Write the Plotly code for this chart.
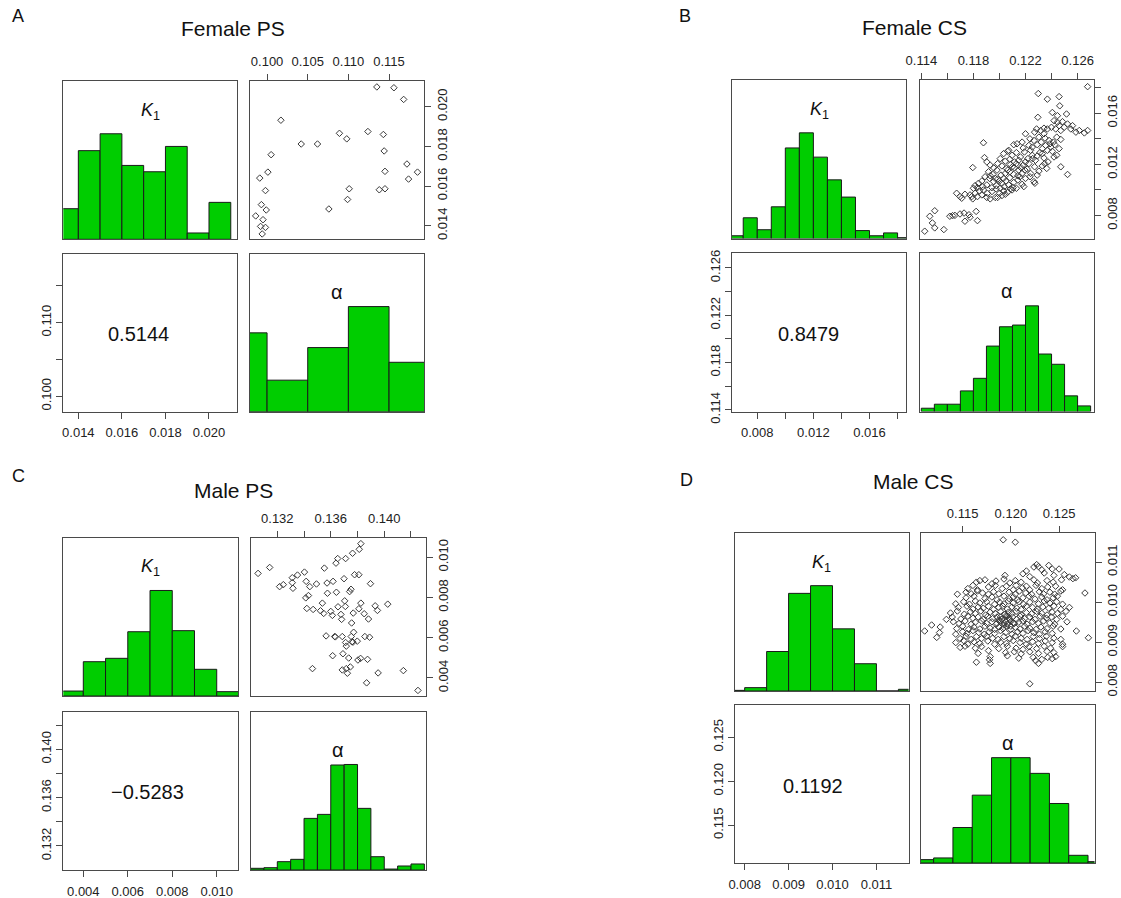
import plotly.graph_objects as go

W, H = 1121, 898
FONT = "Liberation Sans, Arial, sans-serif"

# ------------------------------------------------------------------ data
# Panel A : Female PS
A_k1_edges = [0.013, 0.014, 0.015, 0.016, 0.017, 0.018, 0.019, 0.020, 0.021]
A_k1_heights = [0.29, 0.84, 1.0, 0.70, 0.64, 0.88, 0.06, 0.35]
A_alpha_edges = [0.095, 0.100, 0.105, 0.110, 0.115, 0.120]
A_alpha_heights = [0.75, 0.30, 0.61, 1.0, 0.47]
A_sc_alpha = [0.1135, 0.1156, 0.1168, 0.1017, 0.1089, 0.1098, 0.1124, 0.1143, 0.1042, 0.1062,
              0.1144, 0.1005, 0.1172, 0.1185, 0.1145, 0.1174, 0.1001, 0.0991, 0.0998, 0.1101,
              0.1138, 0.1145, 0.1099, 0.1076, 0.0993, 0.0999, 0.0986, 0.0995, 0.0992, 0.0998, 0.0994]
A_sc_k1 = [0.02100, 0.02096, 0.02037, 0.01932, 0.01866, 0.01838, 0.01875, 0.01860, 0.01812, 0.01812,
           0.01777, 0.01758, 0.01711, 0.01670, 0.01674, 0.01635, 0.01670, 0.01640, 0.01577, 0.01586,
           0.01581, 0.01586, 0.01532, 0.01484, 0.01506, 0.01479, 0.01449, 0.01430, 0.01396, 0.01391, 0.01358]
A_corr = "0.5144"
A_k1_range = [0.01331, 0.0213]
A_alpha_range = [0.0979, 0.1193]

# Panel B : Female CS
B_k1_edges = [0.006, 0.007, 0.008, 0.009, 0.010, 0.011, 0.012, 0.013, 0.014, 0.015, 0.016, 0.017, 0.018, 0.019]
B_k1_heights = [0.026, 0.196, 0.083, 0.30, 0.857, 1.0, 0.770, 0.555, 0.392, 0.075, 0.026, 0.053, 0.008]
B_alpha_edges = [0.114, 0.115, 0.116, 0.117, 0.118, 0.119, 0.120, 0.121, 0.122, 0.123, 0.124, 0.125, 0.126, 0.127]
B_alpha_heights = [0.031, 0.069, 0.069, 0.195, 0.314, 0.619, 0.802, 0.818, 1.0, 0.544, 0.447, 0.148, 0.053]
B_sc_alpha = [
    0.12677, 0.12298, 0.12368, 0.12458, 0.12463, 0.12406, 0.12445, 0.12515, 0.12295, 0.11877,
    0.11885, 0.11795, 0.12471, 0.12523, 0.12419, 0.12272, 0.11968, 0.11671, 0.11710, 0.11787,
    0.11821, 0.11503, 0.11465, 0.11485, 0.11503, 0.11573, 0.11619, 0.11640, 0.11658, 0.11697,
    0.11728, 0.11766, 0.11735, 0.11774, 0.11831, 0.11426,
    0.12587, 0.12652, 0.12677, 0.12548, 0.12497, 0.12471, 0.12432, 0.12399, 0.12368, 0.12342,
    0.12316, 0.12285, 0.12270, 0.12445, 0.12484, 0.12419, 0.12458, 0.12523, 0.12561, 0.12613,
    0.12135, 0.12174, 0.12200, 0.12234, 0.12265, 0.12290, 0.12321, 0.12350, 0.12381, 0.12414,
    0.12440, 0.12471, 0.12182, 0.12226, 0.12252, 0.12303, 0.12342, 0.12110, 0.12071, 0.12394, 0.12458,
    0.12032, 0.12063, 0.12097, 0.12130, 0.12161, 0.12192, 0.12218, 0.12252, 0.12277, 0.12311,
    0.12342, 0.12373, 0.12406, 0.12440, 0.12006, 0.12045, 0.12079, 0.12115, 0.12148, 0.12239,
    0.12329, 0.12368,
    0.11903, 0.11929, 0.11955, 0.11986, 0.12019, 0.12053, 0.12084, 0.12115, 0.12148, 0.12182,
    0.12213, 0.12239, 0.12270, 0.12303, 0.12329, 0.12363, 0.11916, 0.11950, 0.11981, 0.12012,
    0.12045, 0.12079, 0.12110, 0.12141, 0.12174, 0.12200, 0.12290, 0.12347,
    0.11813, 0.11839, 0.11865, 0.11890, 0.11924, 0.11955, 0.11986, 0.12019, 0.12050, 0.12079,
    0.12110, 0.12141, 0.12174, 0.12200, 0.12234, 0.12265, 0.11800, 0.11831, 0.11872, 0.11903,
    0.11942, 0.11975, 0.12006, 0.12037, 0.12071, 0.12105, 0.12156, 0.11929, 0.12187,
    0.11774, 0.11813, 0.11846, 0.11877, 0.11908, 0.11942, 0.11975, 0.12001, 0.12032, 0.12063,
    0.12097, 0.12130, 0.11795, 0.11831, 0.11865, 0.11903, 0.11929, 0.11986, 0.12019, 0.12045,
    0.12084, 0.11697, 0.11735,
    0.12063, 0.12099, 0.12130, 0.12166, 0.12195, 0.12226, 0.12255, 0.12290, 0.12329, 0.12355,
    0.12388, 0.12425, 0.11968, 0.12001, 0.12032]
B_sc_k1 = [
    0.01808, 0.01754, 0.01710, 0.01730, 0.01658, 0.01606, 0.01581, 0.01594, 0.01568, 0.01369,
    0.01253, 0.01175, 0.01181, 0.01121, 0.01258, 0.01052, 0.00941, 0.00974, 0.00935, 0.00948,
    0.00832, 0.00837, 0.00794, 0.00742, 0.00703, 0.00690, 0.00794, 0.00799, 0.00801, 0.00812,
    0.00819, 0.00806, 0.00755, 0.00786, 0.00760, 0.00677,
    0.01452, 0.01446, 0.01465, 0.01477, 0.01490, 0.01465, 0.01477, 0.01490, 0.01477, 0.01483,
    0.01465, 0.01477, 0.01452, 0.01529, 0.01534, 0.01542, 0.01503, 0.01516, 0.01503, 0.01465,
    0.01361, 0.01374, 0.01439, 0.01400, 0.01387, 0.01354, 0.01374, 0.01405, 0.01387, 0.01374,
    0.01413, 0.01395, 0.01328, 0.01348, 0.01335, 0.01413, 0.01439, 0.01354, 0.01310, 0.01335, 0.01323,
    0.01284, 0.01302, 0.01271, 0.01292, 0.01258, 0.01297, 0.01245, 0.01271, 0.01232, 0.01292,
    0.01250, 0.01219, 0.01302, 0.01271, 0.01245, 0.01225, 0.01240, 0.01219, 0.01232, 0.01310,
    0.01323, 0.01310,
    0.01219, 0.01194, 0.01173, 0.01206, 0.01188, 0.01168, 0.01199, 0.01173, 0.01155, 0.01194,
    0.01163, 0.01129, 0.01181, 0.01147, 0.01188, 0.01168, 0.01142, 0.01121, 0.01155, 0.01116,
    0.01129, 0.01142, 0.01121, 0.01111, 0.01129, 0.01219, 0.01116, 0.01206,
    0.01034, 0.01052, 0.01070, 0.01103, 0.01090, 0.01065, 0.01085, 0.01052, 0.01070, 0.01095,
    0.01059, 0.01077, 0.01044, 0.01090, 0.01103, 0.01065, 0.01013, 0.01018, 0.01026, 0.01039,
    0.01018, 0.01034, 0.01013, 0.01026, 0.01039, 0.01018, 0.01103, 0.01111, 0.01026,
    0.00961, 0.00974, 0.00992, 0.01000, 0.00974, 0.00987, 0.01008, 0.00974, 0.00992, 0.00982,
    0.01000, 0.01013, 0.00930, 0.00948, 0.00961, 0.00941, 0.00930, 0.00941, 0.00956, 0.00966,
    0.01008, 0.00948, 0.00966,
    0.01155, 0.01181, 0.01206, 0.01173, 0.01155, 0.01206, 0.01245, 0.01266, 0.01284, 0.01348,
    0.01361, 0.01354, 0.01090, 0.01070, 0.01090]
B_corr = "0.8479"
B_k1_range = [0.0062, 0.0186]
B_alpha_range = [0.11386, 0.12726]

# Panel C : Male PS
C_k1_edges = [0.003, 0.004, 0.005, 0.006, 0.007, 0.008, 0.009, 0.010, 0.011]
C_k1_heights = [0.047, 0.325, 0.357, 0.609, 1.0, 0.619, 0.253, 0.041]
C_alpha_edges = [0.130, 0.131, 0.132, 0.133, 0.134, 0.135, 0.136, 0.137, 0.138, 0.139, 0.140, 0.141, 0.142, 0.143]
C_alpha_heights = [0.016, 0.022, 0.079, 0.101, 0.489, 0.527, 0.995, 1.0, 0.584, 0.126, 0.009, 0.038, 0.057]
C_sc_alpha = [0.13825, 0.13813, 0.13763, 0.13711, 0.13652, 0.13639, 0.13552, 0.13143, 0.13056, 0.13403,
              0.13351, 0.13312, 0.13312, 0.13245, 0.13217, 0.13317, 0.13416, 0.13443, 0.13493, 0.13572,
              0.13617, 0.13699, 0.13778, 0.13810, 0.13897, 0.13575, 0.13642, 0.13741, 0.13751, 0.13413,
              0.13433, 0.13537, 0.13704, 0.13709, 0.13654, 0.13825, 0.13810, 0.13768, 0.13932, 0.13949,
              0.14026, 0.13421, 0.13468, 0.13523, 0.13547, 0.13600, 0.13612, 0.13676, 0.13850, 0.13882,
              0.13681, 0.13756, 0.13771, 0.13565, 0.13629, 0.13634, 0.13686, 0.13753, 0.13855, 0.13890,
              0.13758, 0.13766, 0.13798, 0.13711, 0.13716, 0.13614, 0.13691, 0.13734, 0.13803, 0.13823,
              0.13875, 0.13463, 0.13686, 0.13716, 0.13746, 0.13724, 0.13954, 0.14143, 0.13868, 0.14252]
C_sc_k1 = [0.010674, 0.010394, 0.010197, 0.009934, 0.009934, 0.009704, 0.009458, 0.009491, 0.009195, 0.009260,
           0.009113, 0.008981, 0.008735, 0.008636, 0.008537, 0.008455, 0.008800, 0.008537, 0.008669, 0.008718,
           0.008800, 0.008932, 0.009129, 0.009129, 0.008685, 0.008209, 0.008258, 0.008291, 0.008406, 0.007979,
           0.008094, 0.007716, 0.007831, 0.007551, 0.007535, 0.007716, 0.007436, 0.007223, 0.007584, 0.007354,
           0.007666, 0.007453, 0.007403, 0.007338, 0.007206, 0.007305, 0.007108, 0.007157, 0.007190, 0.006927,
           0.006910, 0.006730, 0.006270, 0.006089, 0.006056, 0.006040, 0.006056, 0.006056, 0.006056, 0.006023,
           0.005793, 0.005776, 0.005826, 0.005760, 0.005579, 0.005103, 0.005201, 0.004988, 0.004889, 0.004971,
           0.004922, 0.004462, 0.004396, 0.004462, 0.004544, 0.004232, 0.004248, 0.004363, 0.003755, 0.003377]
C_corr = "\u22120.5283"
C_k1_range = [0.0031, 0.01097]
C_alpha_range = [0.13001, 0.1431]

# Panel D : Male CS
D_k1_edges = [0.0075, 0.0080, 0.0085, 0.0090, 0.0095, 0.0100, 0.0105, 0.0110, 0.0115, 0.0120]
D_k1_heights = [0.006, 0.032, 0.375, 0.927, 1.0, 0.590, 0.259, 0.0, 0.016]
D_alpha_edges = [0.110, 0.112, 0.114, 0.116, 0.118, 0.120, 0.122, 0.124, 0.126, 0.128, 0.130]
D_alpha_heights = [0.032, 0.048, 0.337, 0.644, 1.0, 1.0, 0.851, 0.565, 0.073, 0.013]
D_sc_alpha = [
    0.12239, 0.12268, 0.12321, 0.12393, 0.12429, 0.12500, 0.12286,
    0.11939, 0.12125, 0.12161, 0.12196, 0.12346, 0.12446, 0.12554, 0.12607,
    0.11643, 0.11679, 0.11732, 0.11804, 0.11846, 0.11929, 0.11989, 0.12046, 0.12107, 0.12239,
    0.12275, 0.12375, 0.12439, 0.12525, 0.12643, 0.12671,
    0.11554, 0.11607, 0.11654, 0.11768, 0.11839, 0.11911, 0.11954, 0.12025, 0.12054, 0.12118,
    0.12161, 0.12196, 0.12261, 0.12321, 0.12382, 0.12464, 0.12536,
    0.11446, 0.11536, 0.11589, 0.11654, 0.11707, 0.11768, 0.11821, 0.11875, 0.11982, 0.12046,
    0.12089, 0.12154, 0.12214, 0.12296, 0.12339, 0.12404, 0.12454, 0.12518, 0.12768,
    0.11536, 0.11618, 0.11732, 0.11804, 0.11857, 0.11929, 0.11982, 0.12025, 0.12071, 0.12125,
    0.12189, 0.12250, 0.12321, 0.12375, 0.12439, 0.12482,
    0.11429, 0.11511, 0.11571, 0.11632, 0.11679, 0.11750, 0.11832, 0.11882, 0.11929, 0.11975,
    0.12025, 0.12082, 0.12132, 0.12196, 0.12286, 0.12346, 0.12404, 0.12475, 0.12536,
    0.11457, 0.11546, 0.11607, 0.11661, 0.11714, 0.11768, 0.11821, 0.11875, 0.11918, 0.11964,
    0.12011, 0.12061, 0.12107, 0.12161, 0.12225, 0.12275, 0.12332, 0.12393, 0.12446, 0.12518, 0.12607,
    0.11375, 0.11446, 0.11518, 0.11582, 0.11632, 0.11689, 0.11739, 0.11786, 0.11839, 0.11893,
    0.11939, 0.11975, 0.12011, 0.12054, 0.12107, 0.12161, 0.12214, 0.12268, 0.12321, 0.12375,
    0.12429, 0.12482, 0.12571,
    0.11332, 0.11393, 0.11482, 0.11554, 0.11607, 0.11661, 0.11714, 0.11761, 0.11811, 0.11857,
    0.11904, 0.11946, 0.11982, 0.12018, 0.12061, 0.12096, 0.12143, 0.12196, 0.12250, 0.12304,
    0.12368, 0.12421, 0.12475, 0.12536,
    0.11179, 0.11404, 0.11464, 0.11525, 0.11589, 0.11632, 0.11696, 0.11750, 0.11804, 0.11846,
    0.11893, 0.11929, 0.11964, 0.12000, 0.12036, 0.12082, 0.12125, 0.12168, 0.12225, 0.12286,
    0.12339, 0.12404, 0.12454, 0.12582,
    0.11268, 0.11439, 0.11500, 0.11561, 0.11618, 0.11679, 0.11732, 0.11786, 0.11832, 0.11875,
    0.11918, 0.11954, 0.12000, 0.12046, 0.12096, 0.12143, 0.12196, 0.12261, 0.12311, 0.12375,
    0.12439, 0.12518,
    0.11107, 0.11261, 0.11429, 0.11500, 0.11546, 0.11607, 0.11668, 0.11725, 0.11775, 0.11832,
    0.11893, 0.11946, 0.12011, 0.12071, 0.12125, 0.12179, 0.12239, 0.12296, 0.12357, 0.12429, 0.12679,
    0.11232, 0.11475, 0.11536, 0.11589, 0.11643, 0.11696, 0.11750, 0.11811, 0.11868, 0.11929,
    0.11989, 0.12046, 0.12107, 0.12168, 0.12232, 0.12296, 0.12368, 0.12446, 0.12518, 0.12804,
    0.11429, 0.11511, 0.11554, 0.11618, 0.11679, 0.11761, 0.11832, 0.11893, 0.11954, 0.12025,
    0.12096, 0.12161, 0.12225, 0.12286, 0.12357, 0.12429, 0.12536,
    0.11475, 0.11525, 0.11632, 0.11696, 0.11875, 0.11964, 0.12054, 0.12125, 0.12189, 0.12268,
    0.12346, 0.12411, 0.12536,
    0.11661, 0.11768, 0.11946, 0.12036, 0.12107, 0.12196, 0.12286, 0.12375, 0.12446,
    0.11786, 0.11964, 0.12082, 0.12232, 0.12321, 0.12382, 0.12429, 0.12464,
    0.11643, 0.11779, 0.11786, 0.12257, 0.12286,
    0.11921, 0.12046, 0.12196,
    0.11875, 0.11911, 0.11946, 0.11989, 0.12025, 0.11929, 0.11893, 0.11964, 0.12000, 0.11857]
D_sc_k1 = [
    0.01088, 0.01094, 0.01081, 0.01092, 0.01083, 0.01083, 0.01089,
    0.01067, 0.01071, 0.01078, 0.01064, 0.01073, 0.01067, 0.01069, 0.01063,
    0.01050, 0.01054, 0.01056, 0.01046, 0.01053, 0.01058, 0.01048, 0.01054, 0.01050, 0.01056,
    0.01048, 0.01054, 0.01050, 0.01056, 0.01059, 0.01061,
    0.01034, 0.01042, 0.01031, 0.01038, 0.01042, 0.01034, 0.01040, 0.01031, 0.01042, 0.01036,
    0.01040, 0.01031, 0.01042, 0.01034, 0.01038, 0.01040, 0.01031,
    0.01020, 0.01025, 0.01021, 0.01028, 0.01023, 0.01020, 0.01026, 0.01021, 0.01025, 0.01020,
    0.01028, 0.01023, 0.01020, 0.01026, 0.01021, 0.01025, 0.01020, 0.01028, 0.01023,
    0.01011, 0.01015, 0.01009, 0.01013, 0.01006, 0.01015, 0.01009, 0.01013, 0.01006, 0.01011,
    0.01015, 0.01008, 0.01013, 0.01006, 0.01011, 0.01015,
    0.00996, 0.01001, 0.00995, 0.01003, 0.00998, 0.01001, 0.00995, 0.01000, 0.00996, 0.01003,
    0.00998, 0.01001, 0.00995, 0.01000, 0.00996, 0.01003, 0.00998, 0.01001, 0.00995,
    0.00987, 0.00990, 0.00983, 0.00988, 0.00985, 0.00990, 0.00982, 0.00987, 0.00990, 0.00983,
    0.00988, 0.00985, 0.00982, 0.00990, 0.00987, 0.00983, 0.00988, 0.00985, 0.00990, 0.00982, 0.00987,
    0.00973, 0.00978, 0.00970, 0.00976, 0.00972, 0.00978, 0.00968, 0.00975, 0.00972, 0.00977,
    0.00970, 0.00975, 0.00972, 0.00977, 0.00969, 0.00974, 0.00971, 0.00977, 0.00972, 0.00968,
    0.00975, 0.00972, 0.00977,
    0.00957, 0.00963, 0.00958, 0.00965, 0.00960, 0.00963, 0.00957, 0.00965, 0.00959, 0.00963,
    0.00957, 0.00965, 0.00960, 0.00963, 0.00957, 0.00965, 0.00959, 0.00963, 0.00957, 0.00965,
    0.00960, 0.00963, 0.00957, 0.00965,
    0.00943, 0.00951, 0.00947, 0.00953, 0.00945, 0.00950, 0.00953, 0.00947, 0.00951, 0.00945,
    0.00953, 0.00948, 0.00945, 0.00952, 0.00947, 0.00950, 0.00953, 0.00945, 0.00951, 0.00947,
    0.00953, 0.00948, 0.00945, 0.00951,
    0.00938, 0.00934, 0.00940, 0.00932, 0.00938, 0.00933, 0.00940, 0.00935, 0.00932, 0.00938,
    0.00934, 0.00940, 0.00932, 0.00937, 0.00933, 0.00940, 0.00935, 0.00932, 0.00938, 0.00934,
    0.00940, 0.00933,
    0.00928, 0.00924, 0.00920, 0.00926, 0.00922, 0.00929, 0.00924, 0.00920, 0.00926, 0.00922,
    0.00929, 0.00924, 0.00920, 0.00926, 0.00922, 0.00929, 0.00924, 0.00920, 0.00926, 0.00922, 0.00928,
    0.00912, 0.00909, 0.00915, 0.00907, 0.00914, 0.00909, 0.00915, 0.00910, 0.00907, 0.00914,
    0.00909, 0.00915, 0.00910, 0.00907, 0.00914, 0.00909, 0.00915, 0.00910, 0.00907, 0.00911,
    0.00899, 0.00904, 0.00895, 0.00901, 0.00897, 0.00903, 0.00895, 0.00900, 0.00897, 0.00904,
    0.00899, 0.00895, 0.00901, 0.00897, 0.00903, 0.00899, 0.00895,
    0.00887, 0.00890, 0.00885, 0.00889, 0.00884, 0.00890, 0.00885, 0.00882, 0.00889, 0.00884,
    0.00890, 0.00885, 0.00889,
    0.00872, 0.00879, 0.00874, 0.00876, 0.00871, 0.00876, 0.00872, 0.00877, 0.00874,
    0.00864, 0.00866, 0.00860, 0.00862, 0.00857, 0.00862, 0.00859, 0.00864,
    0.00850, 0.00856, 0.00847, 0.00854, 0.00847,
    0.01156, 0.01150, 0.00796,
    0.00955, 0.00959, 0.00951, 0.00957, 0.00948, 0.00943, 0.00963, 0.00965, 0.00940, 0.00947]
D_corr = "0.1192"
D_k1_range = [0.00778, 0.01173]
D_alpha_range = [0.11069, 0.12867]

# tick marks (all) and labelled ticks per panel and axis
A_k1_ticks = [0.014, 0.016, 0.018, 0.020]
A_k1_lab_vals = [0.014, 0.016, 0.018, 0.020]
A_k1_lab = ["0.014", "0.016", "0.018", "0.020"]
A_alpha_ticks = [0.100, 0.105, 0.110, 0.115]
A_alpha_top_vals = [0.100, 0.105, 0.110, 0.115]
A_alpha_top_lab = ["0.100", "0.105", "0.110", "0.115"]
A_alpha_left_vals = [0.100, 0.110]
A_alpha_left_lab = ["0.100", "0.110"]

B_k1_ticks = [0.008, 0.010, 0.012, 0.014, 0.016, 0.018]
B_k1_lab_vals = [0.008, 0.012, 0.016]
B_k1_lab = ["0.008", "0.012", "0.016"]
B_alpha_ticks = [0.114, 0.116, 0.118, 0.120, 0.122, 0.124, 0.126]
B_alpha_top_vals = [0.114, 0.118, 0.122, 0.126]
B_alpha_top_lab = ["0.114", "0.118", "0.122", "0.126"]
B_alpha_left_vals = [0.114, 0.118, 0.122, 0.126]
B_alpha_left_lab = ["0.114", "0.118", "0.122", "0.126"]

C_k1_ticks = [0.004, 0.006, 0.008, 0.010]
C_k1_lab_vals = [0.004, 0.006, 0.008, 0.010]
C_k1_lab = ["0.004", "0.006", "0.008", "0.010"]
C_alpha_ticks = [0.132, 0.134, 0.136, 0.138, 0.140, 0.142]
C_alpha_top_vals = [0.132, 0.136, 0.140]
C_alpha_top_lab = ["0.132", "0.136", "0.140"]
C_alpha_left_vals = [0.132, 0.136, 0.140]
C_alpha_left_lab = ["0.132", "0.136", "0.140"]

D_k1_ticks = [0.008, 0.009, 0.010, 0.011]
D_k1_lab_vals = [0.008, 0.009, 0.010, 0.011]
D_k1_lab = ["0.008", "0.009", "0.010", "0.011"]
D_alpha_ticks = [0.115, 0.120, 0.125]
D_alpha_top_vals = [0.115, 0.120, 0.125]
D_alpha_top_lab = ["0.115", "0.120", "0.125"]
D_alpha_left_vals = [0.115, 0.120, 0.125]
D_alpha_left_lab = ["0.115", "0.120", "0.125"]

# ------------------------------------------------------------------ layout geometry (pixels)
panels = [
    dict(letter="A", title="Female PS", letter_xy=(18, 16), title_xy=(233, 29),
         cols=[(63.3, 237.3), (250, 424)], rows=[(81, 239.3), (254, 411.7)],
         k1e=A_k1_edges, k1h=A_k1_heights, ae=A_alpha_edges, ah=A_alpha_heights,
         sa=A_sc_alpha, sk=A_sc_k1, corr=A_corr, corr_x=0.43, kr=A_k1_range, ar=A_alpha_range,
         kt=A_k1_ticks, klv=A_k1_lab_vals, kl=A_k1_lab, at=A_alpha_ticks,
         atv=A_alpha_top_vals, atl=A_alpha_top_lab, alv=A_alpha_left_vals, all_=A_alpha_left_lab),
    dict(letter="B", title="Female CS", letter_xy=(685, 16), title_xy=(915, 27),
         cols=[(732, 906), (919.5, 1094)], rows=[(80, 238.5), (253, 411.5)],
         k1e=B_k1_edges, k1h=B_k1_heights, ae=B_alpha_edges, ah=B_alpha_heights,
         sa=B_sc_alpha, sk=B_sc_k1, corr=B_corr, corr_x=0.44, kr=B_k1_range, ar=B_alpha_range,
         kt=B_k1_ticks, klv=B_k1_lab_vals, kl=B_k1_lab, at=B_alpha_ticks,
         atv=B_alpha_top_vals, atl=B_alpha_top_lab, alv=B_alpha_left_vals, all_=B_alpha_left_lab),
    dict(letter="C", title="Male PS", letter_xy=(18, 476), title_xy=(233, 491),
         cols=[(63.3, 238.3), (250.7, 425.7)], rows=[(537.7, 696), (711.7, 870)],
         k1e=C_k1_edges, k1h=C_k1_heights, ae=C_alpha_edges, ah=C_alpha_heights,
         sa=C_sc_alpha, sk=C_sc_k1, corr=C_corr, corr_x=0.48, kr=C_k1_range, ar=C_alpha_range,
         kt=C_k1_ticks, klv=C_k1_lab_vals, kl=C_k1_lab, at=C_alpha_ticks,
         atv=C_alpha_top_vals, atl=C_alpha_top_lab, alv=C_alpha_left_vals, all_=C_alpha_left_lab),
    dict(letter="D", title="Male CS", letter_xy=(686, 480), title_xy=(913, 481),
         cols=[(735, 908.5), (921, 1094.5)], rows=[(533, 691), (705, 863)],
         k1e=D_k1_edges, k1h=D_k1_heights, ae=D_alpha_edges, ah=D_alpha_heights,
         sa=D_sc_alpha, sk=D_sc_k1, corr=D_corr, corr_x=0.45, kr=D_k1_range, ar=D_alpha_range,
         kt=D_k1_ticks, klv=D_k1_lab_vals, kl=D_k1_lab, at=D_alpha_ticks,
         atv=D_alpha_top_vals, atl=D_alpha_top_lab, alv=D_alpha_left_vals, all_=D_alpha_left_lab),
]

BOX = "#4a4a4a"
GREEN = "#00CD00"
TICKFONT = dict(family=FONT, size=13, color="#222")

fig = go.Figure()
layout = dict(width=W, height=H, margin=dict(l=0, r=0, t=0, b=0, pad=0, autoexpand=False),
              paper_bgcolor="white", plot_bgcolor="white", showlegend=False,
              font=dict(family=FONT, color="#111"))
annotations = []
counter = [0]


def dom(col, row):
    return [col[0] / W, col[1] / W], [1 - row[1] / H, 1 - row[0] / H]


def base_axis(domain, rng):
    return dict(domain=domain, range=rng, showline=True, mirror=True, linecolor=BOX, linewidth=1,
                showgrid=False, zeroline=False, fixedrange=True, tickfont=TICKFONT,
                ticks="", showticklabels=False, automargin=False)


def new_axes(col, row, xr, yr, xopt=None, yopt=None):
    counter[0] += 1
    n = counter[0]
    xd, yd = dom(col, row)
    xa = base_axis(xd, xr)
    ya = base_axis(yd, yr)
    xa["anchor"] = "y" if n == 1 else f"y{n}"
    ya["anchor"] = "x" if n == 1 else f"x{n}"
    if xopt:
        xa.update(xopt)
    if yopt:
        ya.update(yopt)
    layout["xaxis" if n == 1 else f"xaxis{n}"] = xa
    layout["yaxis" if n == 1 else f"yaxis{n}"] = ya
    return ("x" if n == 1 else f"x{n}"), ("y" if n == 1 else f"y{n}")


def tickopts(all_ticks, lab_vals, labels, side, angle=0, standoff=0):
    return dict(tickmode="array", tickvals=lab_vals, ticktext=labels, ticks="outside", ticklen=6,
                tickwidth=1, tickcolor=BOX, showticklabels=True, side=side, tickangle=angle,
                ticklabelstandoff=standoff,
                minor=dict(tickmode="array", tickvals=all_ticks, ticks="outside", ticklen=6,
                           tickwidth=1, tickcolor=BOX, showgrid=False))


def add_hist(xref, yref, edges, heights):
    centers = [(edges[i] + edges[i + 1]) / 2 for i in range(len(heights))]
    widths = [edges[i + 1] - edges[i] for i in range(len(heights))]
    fig.add_trace(go.Bar(x=centers, y=heights, width=widths, xaxis=xref, yaxis=yref,
                         marker=dict(color=GREEN, line=dict(color="#1a1a1a", width=1)),
                         hoverinfo="skip"))


for p in panels:
    c0, c1 = p["cols"]
    r0, r1 = p["rows"]
    # top-left: K1 histogram
    xr, yr = new_axes(c0, r0, p["kr"], [0, 1.5])
    add_hist(xr, yr, p["k1e"], p["k1h"])
    annotations.append(dict(xref=f"{xr} domain", yref=f"{yr} domain", x=0.5, y=0.81,
                            text="<i>K</i><sub>1</sub>", showarrow=False,
                            font=dict(family=FONT, size=18, color="#111"), xanchor="center", yanchor="middle"))
    # top-right: scatter (alpha on x, K1 on y)
    xr, yr = new_axes(c1, r0, p["ar"], p["kr"],
                      xopt=tickopts(p["at"], p["atv"], p["atl"], "top", 0, 3),
                      yopt=tickopts(p["kt"], p["klv"], p["kl"], "right", -90, 0))
    fig.add_trace(go.Scatter(x=p["sa"], y=p["sk"], mode="markers", xaxis=xr, yaxis=yr,
                             marker=dict(symbol="diamond-open", size=5, color="#3a3a3a",
                                         line=dict(width=1, color="#3a3a3a")),
                             hoverinfo="skip", cliponaxis=True))
    # bottom-left: correlation text with axes
    xr, yr = new_axes(c0, r1, p["kr"], p["ar"],
                      xopt=tickopts(p["kt"], p["klv"], p["kl"], "bottom", 0, 3),
                      yopt=tickopts(p["at"], p["alv"], p["all_"], "left", -90, 0))
    fig.add_trace(go.Scatter(x=[], y=[], mode="markers", xaxis=xr, yaxis=yr, hoverinfo="skip"))
    annotations.append(dict(xref=f"{xr} domain", yref=f"{yr} domain", x=p["corr_x"], y=0.49,
                            text=p["corr"], showarrow=False,
                            font=dict(family=FONT, size=20, color="#111"), xanchor="center", yanchor="middle"))
    # bottom-right: alpha histogram
    xr, yr = new_axes(c1, r1, p["ar"], [0, 1.5])
    add_hist(xr, yr, p["ae"], p["ah"])
    annotations.append(dict(xref=f"{xr} domain", yref=f"{yr} domain", x=0.5, y=0.76,
                            text="\u03b1", showarrow=False,
                            font=dict(family=FONT, size=20, color="#111"), xanchor="center", yanchor="middle"))
    # titles
    annotations.append(dict(xref="paper", yref="paper", x=p["title_xy"][0] / W, y=1 - p["title_xy"][1] / H,
                            text=p["title"], showarrow=False, xanchor="center", yanchor="middle",
                            font=dict(family=FONT, size=21, color="#111")))
    annotations.append(dict(xref="paper", yref="paper", x=p["letter_xy"][0] / W, y=1 - p["letter_xy"][1] / H,
                            text=p["letter"], showarrow=False, xanchor="center", yanchor="middle",
                            font=dict(family=FONT, size=18, color="#111")))

layout["annotations"] = annotations
layout["bargap"] = 0
fig.update_layout(**layout)
fig.write_html("out.html", config={"displayModeBar": False, "staticPlot": True},
               post_script="document.body.style.margin='0';document.body.style.overflow='hidden';")
